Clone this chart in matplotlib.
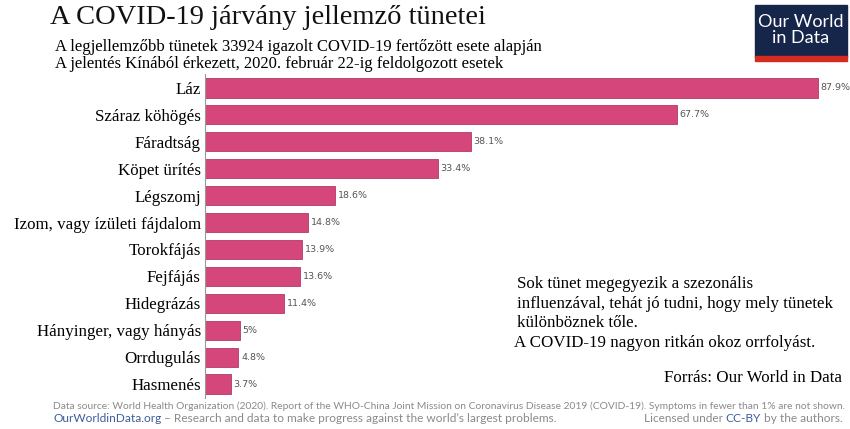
import matplotlib.pyplot as plt
from matplotlib.patches import Rectangle

symptoms = ["Láz", "Száraz köhögés", "Fáradtság", "Köpet ürítés", "Légszomj",
            "Izom, vagy ízületi fájdalom", "Torokfájás", "Fejfájás", "Hidegrázás",
            "Hányinger, vagy hányás", "Orrdugulás", "Hasmenés"]
shares = [87.9, 67.7, 38.1, 33.4, 18.6, 14.8, 13.9, 13.6, 11.4, 5, 4.8, 3.7]
value_labels = ["87.9%", "67.7%", "38.1%", "33.4%", "18.6%", "14.8%", "13.9%",
                "13.6%", "11.4%", "5%", "4.8%", "3.7%"]

W, H = 850, 429
fig = plt.figure(figsize=(W / 100, H / 100), dpi=100)
serif = "Liberation Serif"

# axes placed in pixel terms
left, right, top, bottom = 205, 845, 74, 398
ax = fig.add_axes([left / W, 1 - bottom / H, (right - left) / W, (bottom - top) / H])
pos = list(range(len(symptoms)))
ax.barh(pos, shares, height=0.71, color="#d5477b", edgecolor="#b03a66", linewidth=0.6)
ax.set_ylim(11.52, -0.52)
ax.set_xlim(0, (right - left) / 6.97)
for p, v, lab in zip(pos, shares, value_labels):
    ax.text(v + 0.4, p, lab, va="center", ha="left", fontsize=6.8, color="#555555",
            family="DejaVu Sans")
ax.set_yticks(pos)
ax.set_yticklabels(symptoms, fontsize=12.2, family=serif)
ax.tick_params(axis="y", length=0, pad=3)
ax.set_xticks([])
for s in ["top", "right", "bottom"]:
    ax.spines[s].set_visible(False)
ax.spines["left"].set_color("#999999")
ax.spines["left"].set_linewidth(0.8)

# title and subtitles
fig.text(50 / W, 1 - 18 / H, "A COVID-19 járvány jellemző tünetei", fontsize=20.5,
         family=serif, va="center", ha="left", color="#111111")
fig.text(55 / W, 1 - 47 / H,
         "A legjellemzőbb tünetek 33924 igazolt COVID-19 fertőzött esete alapján",
         fontsize=12, family=serif, va="center", ha="left")
fig.text(55 / W, 1 - 64 / H,
         "A jelentés Kínából érkezett, 2020. február 22-ig feldolgozott esetek",
         fontsize=12, family=serif, va="center", ha="left")

# logo
fig.patches.append(Rectangle((755 / W, 1 - 57 / H), 92 / W, 52 / H,
                             transform=fig.transFigure, color="#16264a", zorder=1))
fig.patches.append(Rectangle((755 / W, 1 - 61 / H), 92 / W, 5 / H,
                             transform=fig.transFigure, color="#d42b21", zorder=1))
fig.text(801 / W, 1 - 30 / H, "Our World\nin Data", color="white", fontsize=13,
         family="Lato", ha="center", va="center", linespacing=1.05, zorder=2)

# note
note_lines = ["Sok tünet megegyezik a szezonális",
              "influenzával, tehát jó tudni, hogy mely tünetek",
              "különböznek tőle."]
for i, line in enumerate(note_lines):
    fig.text(517 / W, 1 - (284 + 19.7 * i) / H, line, fontsize=12.2, family=serif,
             va="center", ha="left")
fig.text(514 / W, 1 - 343 / H, "A COVID-19 nagyon ritkán okoz orrfolyást.",
         fontsize=12.2, family=serif, va="center", ha="left")
fig.text(842 / W, 1 - 378 / H, "Forrás: Our World in Data", fontsize=12.2,
         family=serif, va="center", ha="right")

# footer
grey = "#8a8a8a"
blue = "#3d5c9e"
fig.text(53 / W, 1 - 406 / H,
         "Data source: World Health Organization (2020). Report of the WHO-China Joint Mission "
         "on Coronavirus Disease 2019 (COVID-19). Symptoms in fewer than 1% are not shown.",
         fontsize=7.35, color=grey, family="Lato", va="center", ha="left")

renderer = fig.canvas.get_renderer()


def chain(parts, x, y, ha="left"):
    # parts placed one after another, measured with the renderer
    texts = [fig.text(0, 1 - y / H, s, fontsize=8.6, color=c, family="Lato", va="center")
             for s, c in parts]
    widths = [t.get_window_extent(renderer).width for t in texts]
    start = x if ha == "left" else x - sum(widths)
    for t, w in zip(texts, widths):
        t.set_x(start / W)
        start += w


chain([("OurWorldinData.org", blue),
       (" – Research and data to make progress against the world’s largest problems.", grey)],
      53, 419)
chain([("Licensed under ", grey), ("CC-BY", blue), (" by the authors.", grey)],
      843, 419, ha="right")

fig.savefig("out.png", dpi=100)
